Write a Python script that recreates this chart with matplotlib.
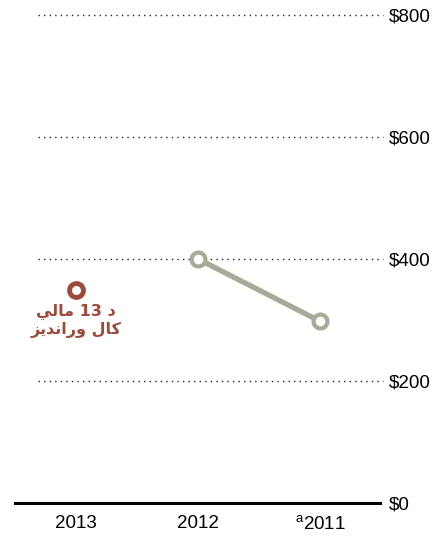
import matplotlib
matplotlib.use("Agg")
import matplotlib.pyplot as plt

# fiscal years, shown right-to-left (2013 on the left)
years = ["2013", "2012", "$^{\\mathregular{a}}$2011"]
actual = [None, 400, 298]       # grey line
proposal_value = 349            # single red point for 2013
y_ticks = [0, 200, 400, 600, 800]
y_labels = ["$0", "$200", "$400", "$600", "$800"]
# Pashto label "د 13 مالي / کال وراندیز", pre-shaped glyphs in visual order
label_lines = ["\uFEF2\uFEDF\uFE8E\uFEE3 13 \uFEA9",
               "\uFEB0\uFBFE\uFEAA\uFEE7\uFE8D\uFEAD\uFEED \uFEDD\uFE8E\uFB90"]

line_col = "#a8a996"
red_col = "#9c4a3a"
font = ["Liberation Sans", "DejaVu Sans"]

fig = plt.figure(figsize=(4.39, 5.36), dpi=100)
ax = fig.add_axes([15 / 439, 33 / 536, 368 / 439, 488 / 536])
ax.set_xlim(-0.5, 2.516)
ax.set_ylim(0, 800)

xs = list(range(len(years)))

# dotted gridlines, baseline
for v in y_ticks[1:]:
    ax.plot([-0.31, 2.516], [v, v], ls=(0, (1, 3)), color="#222222", lw=1.0, zorder=1, clip_on=False)
ax.plot([-0.5, 2.49], [0, 0], color="black", lw=2.2, zorder=2, clip_on=False)

# grey line for 2012 -> 2011
ax.plot(xs[1:], actual[1:], color=line_col, lw=3.8, marker="o", ms=10,
        mfc="white", mec=line_col, mew=3, zorder=3)

# red proposal point
ax.plot([xs[0]], [proposal_value], marker="o", ms=10, mfc="white",
        mec=red_col, mew=3.5, ls="none", zorder=3)
for txt, yv in zip(label_lines, [313, 284]):
    ax.text(xs[0], yv, txt, color=red_col, fontsize=11.5, fontweight="bold",
            family=["DejaVu Sans"], ha="center", va="center")

ax.set_xticks(xs)
ax.set_xticklabels(years, fontsize=13.5, family=font)
ax.yaxis.tick_right()
ax.set_yticks(y_ticks)
ax.set_yticklabels(y_labels, fontsize=13.5, family=font)
ax.tick_params(length=0, pad=4)
ax.tick_params(axis="x", pad=9)
for s in ax.spines.values():
    s.set_visible(False)

fig.savefig("out.png", dpi=100)
